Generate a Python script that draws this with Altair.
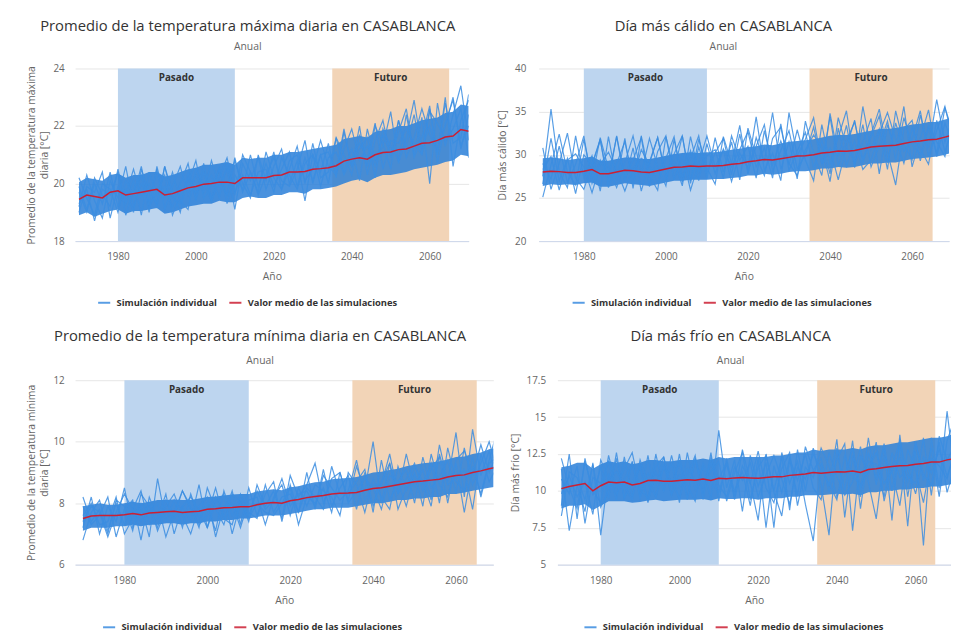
import altair as alt
import pandas as pd

YEARS = list(range(1970, 2071, 2))
X_TICKS = [1980, 2000, 2020, 2040, 2060]
SIM_LABEL = "Simulación individual"
MEAN_LABEL = "Valor medio de las simulaciones"
PERIOD_LABELS = ["Pasado", "Futuro"]
PERIOD_START = [1980, 2035]
PERIOD_END = [2010, 2065]
PERIOD_COLORS = ["#bdd5ef", "#f2d4b7"]

# ---------------- Panel 1: promedio temperatura máxima diaria ----------------
P1_MEAN = [19.45, 19.6, 19.55, 19.5, 19.7, 19.75, 19.6, 19.65, 19.7, 19.75, 19.8, 19.6, 19.65, 19.75, 19.85,
           19.9, 19.98, 20.0, 20.05, 20.05, 20.0, 20.2, 20.2, 20.2, 20.2, 20.28, 20.3, 20.4, 20.4, 20.42,
           20.5, 20.52, 20.55, 20.62, 20.78, 20.85, 20.9, 20.85, 21.0, 21.08, 21.1, 21.18, 21.2, 21.3, 21.4,
           21.42, 21.5, 21.62, 21.65, 21.88, 21.82]
P1_LO = [18.9, 19.0, 18.85, 18.95, 19.05, 19.1, 18.95, 19.05, 19.05, 19.1, 19.15, 18.95, 19.0, 19.1, 19.2,
         19.25, 19.3, 19.3, 19.4, 19.35, 19.35, 19.5, 19.55, 19.5, 19.5, 19.6, 19.6, 19.7, 19.7, 19.65,
         19.8, 19.8, 19.85, 19.9, 20.0, 20.1, 20.15, 20.05, 20.2, 20.3, 20.3, 20.35, 20.4, 20.5, 20.55,
         20.6, 20.65, 20.75, 20.8, 21.0, 20.95]
P1_HI = [20.05, 20.2, 20.15, 20.1, 20.3, 20.35, 20.2, 20.3, 20.3, 20.4, 20.4, 20.25, 20.3, 20.4, 20.5,
         20.55, 20.65, 20.65, 20.7, 20.75, 20.65, 20.9, 20.85, 20.9, 20.9, 21.0, 21.0, 21.1, 21.1, 21.15,
         21.2, 21.25, 21.3, 21.35, 21.55, 21.6, 21.65, 21.6, 21.8, 21.85, 21.9, 22.0, 22.0, 22.1, 22.2,
         22.25, 22.3, 22.45, 22.5, 22.75, 22.7]
P1_S1 = [19.2, 20.3, 19.4, 18.8, 20.1, 19.5, 20.6, 19.2, 20.0, 19.4, 20.5, 19.1, 19.9, 20.6, 19.6, 20.3, 19.7,
         20.8, 19.9, 20.5, 19.1, 20.7, 20.1, 20.9, 19.8, 20.6, 21.2, 20.0, 20.8, 19.4, 21.0, 20.4, 21.4, 20.2,
         21.8, 20.6, 22.0, 20.3, 21.5, 22.2, 20.9, 21.8, 22.6, 21.0, 22.3, 20.0, 22.8, 21.3, 22.4, 23.4, 21.5]
P1_S2 = [19.7, 19.0, 20.2, 19.6, 19.2, 20.5, 19.3, 20.1, 18.9, 20.4, 19.6, 19.9, 19.2, 20.0, 20.7, 19.4, 20.4,
         19.5, 20.6, 19.3, 20.3, 19.8, 21.0, 19.9, 20.7, 19.9, 20.5, 21.1, 19.9, 20.9, 20.1, 21.0, 20.0, 21.6,
         20.4, 21.2, 20.1, 21.9, 20.8, 21.3, 22.5, 20.7, 21.6, 22.9, 21.2, 22.0, 21.0, 23.0, 20.6, 22.2, 22.9]
P1_S3 = [20.2, 19.5, 18.9, 20.0, 19.8, 19.0, 20.1, 19.6, 20.6, 19.2, 19.7, 20.3, 18.9, 19.6, 20.0, 20.8, 19.5,
         19.9, 20.5, 19.6, 20.9, 19.7, 20.4, 19.7, 21.1, 20.2, 19.8, 20.8, 21.0, 20.1, 20.5, 21.5, 20.6, 20.3,
         21.2, 21.9, 20.8, 21.3, 20.6, 21.7, 21.0, 22.2, 20.9, 21.6, 22.6, 21.7, 21.2, 22.0, 23.0, 21.2, 22.4]
P1_S4 = [19.0, 19.9, 19.7, 20.4, 18.8, 19.9, 19.6, 20.5, 19.5, 20.0, 19.2, 20.6, 19.5, 19.3, 20.2, 19.7, 20.0,
         19.4, 20.2, 20.9, 19.7, 20.3, 19.6, 20.4, 20.5, 19.7, 20.9, 20.3, 19.8, 20.7, 21.0, 19.9, 20.9, 21.1,
         20.3, 20.9, 21.4, 20.9, 22.1, 20.5, 21.5, 21.4, 21.9, 21.4, 21.0, 22.5, 22.1, 21.5, 21.9, 22.6, 20.9]
P1_S5 = [19.9, 19.1, 20.0, 19.3, 20.4, 19.2, 19.8, 19.0, 20.5, 19.7, 19.3, 20.6, 19.7, 19.0, 20.4, 19.5, 20.7,
         19.4, 20.1, 19.6, 20.8, 20.0, 19.5, 21.0, 20.1, 21.1, 19.8, 20.5, 21.3, 20.0, 21.4, 20.2, 20.4, 21.6,
         21.0, 20.3, 21.7, 20.6, 22.0, 21.4, 20.5, 22.2, 21.3, 22.4, 21.0, 22.6, 21.1, 22.8, 21.4, 21.6, 23.1]
P1_S6 = [19.3, 19.8, 18.7, 19.8, 19.6, 20.4, 18.9, 19.8, 20.3, 19.0, 20.6, 19.5, 20.4, 19.4, 19.1, 20.5, 19.9,
         20.3, 19.5, 20.7, 19.6, 21.0, 20.4, 19.6, 20.3, 20.9, 20.1, 19.9, 20.5, 21.5, 20.0, 21.0, 21.1, 20.4,
         21.9, 20.6, 21.2, 21.6, 20.2, 21.9, 21.3, 20.8, 22.4, 20.9, 21.6, 22.7, 20.7, 22.1, 22.9, 21.3, 22.0]

# ---------------- Panel 2: día más cálido ----------------
P2_MEAN = [28.0, 28.1, 28.05, 27.95, 27.95, 28.1, 28.3, 27.8, 27.8, 28.0, 28.2, 28.15, 28.0, 27.95, 28.15,
           28.35, 28.55, 28.6, 28.7, 28.65, 28.7, 28.7, 28.75, 28.9, 29.0, 29.2, 29.3, 29.45, 29.4, 29.55,
           29.7, 29.85, 29.9, 30.0, 30.2, 30.3, 30.45, 30.4, 30.5, 30.7, 30.9, 31.0, 31.05, 31.1, 31.3,
           31.5, 31.6, 31.75, 31.8, 32.05, 32.3]
P2_LO = [26.4, 26.6, 26.5, 26.6, 26.5, 26.7, 26.8, 26.3, 26.3, 26.5, 26.7, 26.6, 26.5, 26.4, 26.6, 26.8, 27.0,
         27.0, 27.1, 27.1, 27.1, 27.2, 27.2, 27.3, 27.4, 27.6, 27.6, 27.8, 27.7, 27.8, 28.0, 28.1, 28.1, 28.2,
         28.4, 28.4, 28.6, 28.5, 28.6, 28.8, 29.0, 29.0, 29.1, 29.1, 29.3, 29.5, 29.6, 29.7, 29.8, 30.0, 30.3]
P2_HI = [29.6, 29.7, 29.6, 29.4, 29.5, 29.6, 29.8, 29.3, 29.3, 29.5, 29.7, 29.7, 29.5, 29.5, 29.7, 29.9, 30.1,
         30.2, 30.3, 30.2, 30.3, 30.3, 30.4, 30.6, 30.7, 30.9, 31.0, 31.2, 31.1, 31.3, 31.5, 31.6, 31.7, 31.8,
         32.0, 32.2, 32.3, 32.3, 32.4, 32.6, 32.8, 33.0, 33.0, 33.1, 33.3, 33.5, 33.6, 33.8, 33.8, 34.1, 34.3]
P2_S1 = [27.5, 35.3, 28.0, 26.2, 32.2, 27.4, 29.9, 25.8, 32.1, 27.0, 31.9, 26.1, 32.2, 27.6, 25.9, 32.1, 28.2,
         32.2, 27.0, 31.8, 28.5, 26.6, 32.1, 29.0, 33.4, 27.8, 32.0, 29.2, 34.9, 28.3, 31.5, 27.2, 33.9, 30.2,
         27.6, 34.8, 29.8, 33.4, 28.5, 35.6, 30.6, 33.0, 28.3, 35.1, 31.2, 29.4, 34.6, 30.8, 36.4, 31.5, 34.4]
P2_S2 = [25.1, 28.8, 32.4, 28.0, 26.5, 31.8, 27.2, 32.0, 28.4, 26.2, 29.1, 32.2, 27.8, 31.9, 28.6, 26.4, 31.8,
         27.5, 29.6, 32.2, 27.2, 32.0, 28.0, 31.5, 27.1, 33.1, 29.8, 27.6, 31.9, 33.2, 28.8, 32.9, 29.4, 27.0,
         33.5, 29.0, 32.0, 35.1, 28.9, 31.5, 34.2, 27.8, 33.5, 30.6, 35.6, 28.6, 31.9, 35.2, 29.8, 33.7, 31.0]
P2_S3 = [30.8, 26.0, 29.0, 32.5, 27.3, 26.0, 28.8, 31.7, 26.9, 32.2, 27.3, 29.4, 32.0, 26.3, 30.4, 32.2, 27.1,
         30.0, 25.9, 29.0, 32.2, 28.6, 30.5, 26.9, 30.2, 28.5, 34.4, 28.2, 30.2, 27.0, 34.9, 29.9, 31.8, 34.3,
         28.9, 30.8, 27.1, 30.9, 34.0, 29.0, 32.4, 35.3, 30.3, 26.5, 32.9, 34.0, 29.3, 33.1, 30.2, 35.4, 32.6]
P2_S4 = [28.3, 29.8, 25.9, 29.4, 30.1, 28.6, 25.6, 28.9, 30.3, 28.2, 25.8, 28.5, 29.6, 29.0, 32.0, 27.6, 29.3,
         26.4, 32.1, 28.0, 29.9, 30.6, 27.3, 32.2, 29.4, 31.0, 27.3, 32.8, 28.8, 31.6, 29.0, 27.6, 30.6, 32.3,
         30.8, 26.9, 33.1, 28.7, 31.6, 28.3, 29.4, 32.5, 34.9, 31.8, 29.0, 33.1, 30.7, 28.9, 34.0, 30.4, 33.2]
P2_S5 = [29.0, 27.2, 31.0, 26.8, 28.9, 32.2, 26.7, 29.4, 27.5, 32.1, 26.9, 30.8, 25.8, 29.2, 32.0, 27.3, 30.1,
         32.2, 26.7, 30.9, 27.9, 30.2, 31.9, 27.7, 32.4, 28.0, 31.0, 33.5, 28.1, 30.5, 32.8, 28.4, 30.0, 33.2,
         29.0, 34.4, 28.7, 31.6, 33.8, 29.5, 32.1, 34.5, 29.1, 33.7, 30.4, 31.8, 35.1, 29.8, 32.8, 35.6, 31.5]
P2_S6 = [26.6, 31.9, 27.0, 29.6, 25.5, 30.0, 28.9, 31.8, 26.2, 29.0, 31.5, 27.2, 30.6, 28.8, 26.8, 29.6, 32.1,
         26.8, 30.5, 27.0, 31.3, 27.8, 30.7, 28.6, 30.6, 32.7, 28.6, 30.8, 27.3, 33.6, 28.2, 30.4, 32.6, 28.5,
         31.7, 27.8, 34.3, 30.9, 29.2, 33.5, 28.6, 31.0, 33.9, 29.4, 34.3, 31.2, 30.0, 33.4, 31.5, 29.8, 34.8]

# ---------------- Panel 3: promedio temperatura mínima diaria ----------------
P3_MEAN = [7.5, 7.58, 7.6, 7.6, 7.6, 7.62, 7.66, 7.62, 7.68, 7.7, 7.72, 7.74, 7.7, 7.72, 7.74, 7.8, 7.82,
           7.85, 7.86, 7.88, 7.88, 7.95, 8.0, 8.02, 8.0, 8.08, 8.12, 8.18, 8.22, 8.25, 8.3, 8.32, 8.33, 8.35,
           8.42, 8.48, 8.5, 8.55, 8.6, 8.65, 8.7, 8.72, 8.75, 8.78, 8.85, 8.9, 8.92, 9.0, 9.05, 9.12, 9.18]
P3_LO = [7.1, 7.2, 7.2, 7.2, 7.25, 7.25, 7.3, 7.25, 7.3, 7.3, 7.35, 7.35, 7.3, 7.35, 7.35, 7.4, 7.4, 7.45,
         7.45, 7.5, 7.5, 7.55, 7.6, 7.6, 7.6, 7.65, 7.7, 7.75, 7.8, 7.8, 7.85, 7.85, 7.85, 7.9, 7.95, 8.0,
         8.0, 8.05, 8.1, 8.1, 8.15, 8.15, 8.2, 8.2, 8.3, 8.3, 8.35, 8.4, 8.45, 8.5, 8.55]
P3_HI = [7.9, 7.95, 8.0, 7.95, 7.95, 8.0, 8.05, 8.0, 8.05, 8.1, 8.1, 8.12, 8.1, 8.1, 8.15, 8.2, 8.22, 8.25,
         8.28, 8.3, 8.3, 8.38, 8.42, 8.45, 8.42, 8.52, 8.55, 8.62, 8.68, 8.7, 8.78, 8.8, 8.82, 8.85, 8.92,
         9.0, 9.02, 9.08, 9.12, 9.2, 9.25, 9.3, 9.32, 9.36, 9.42, 9.5, 9.52, 9.6, 9.65, 9.75, 9.8]
P3_S1 = [7.2, 8.2, 7.0, 7.9, 7.4, 8.5, 7.2, 7.9, 6.9, 8.8, 7.4, 8.1, 7.2, 8.3, 7.5, 8.0, 7.1, 8.4, 7.6, 8.1,
         7.4, 8.6, 7.9, 8.4, 7.5, 8.9, 8.2, 8.6, 9.3, 8.0, 8.8, 9.0, 8.1, 9.2, 8.4, 10.0, 8.0, 9.3, 8.3, 9.6,
         8.5, 9.1, 8.1, 9.9, 8.7, 10.3, 8.2, 10.4, 8.9, 9.7, 8.6]
P3_S2 = [6.8, 7.7, 8.1, 7.1, 8.0, 7.3, 7.8, 8.4, 7.3, 7.5, 8.3, 7.0, 7.9, 7.4, 8.6, 7.2, 8.2, 7.6, 8.4, 7.3,
         8.5, 7.6, 8.3, 8.7, 7.4, 8.6, 7.7, 9.0, 7.8, 9.1, 7.9, 8.5, 8.9, 7.8, 9.0, 7.7, 9.4, 8.1, 8.7, 9.1,
         8.0, 9.5, 8.5, 8.9, 9.4, 8.3, 9.8, 8.6, 9.3, 10.0, 9.0]
P3_S3 = [7.9, 7.3, 7.6, 8.2, 6.9, 7.8, 8.1, 6.8, 8.2, 7.5, 7.9, 8.3, 7.6, 7.0, 7.9, 8.2, 6.9, 7.9, 8.0, 7.2,
         8.1, 8.2, 7.3, 8.2, 8.6, 7.6, 8.5, 7.9, 8.6, 8.4, 8.2, 7.6, 9.0, 8.6, 7.7, 8.8, 8.2, 7.8, 9.2, 8.4,
         9.0, 7.9, 9.6, 8.6, 8.2, 9.3, 7.7, 9.2, 8.3, 9.4, 10.4]
P3_S4 = [7.6, 8.0, 7.3, 7.4, 8.2, 7.0, 7.5, 8.0, 7.7, 8.0, 6.9, 7.7, 8.4, 7.8, 7.3, 7.6, 8.5, 7.5, 7.3, 8.3,
         7.7, 7.5, 8.6, 7.7, 8.2, 8.3, 7.7, 8.5, 8.2, 7.8, 9.2, 8.3, 8.3, 8.7, 9.1, 7.9, 8.7, 9.3, 7.8, 8.5,
         9.2, 8.7, 7.9, 9.6, 8.6, 8.8, 9.1, 7.8, 9.6, 8.7, 9.2]
P3_S5 = [8.2, 7.4, 7.8, 7.0, 8.1, 7.9, 7.1, 8.3, 7.9, 7.2, 8.1, 7.6, 8.4, 7.9, 7.2, 8.5, 7.8, 7.3, 8.3, 8.0,
         7.6, 8.4, 7.8, 8.1, 8.8, 7.9, 8.3, 8.4, 7.9, 8.9, 8.5, 8.1, 8.4, 9.4, 8.1, 8.6, 8.6, 9.6, 8.3, 8.8,
         9.3, 8.4, 9.1, 9.5, 8.0, 9.4, 9.7, 8.9, 9.9, 9.0, 9.6]
P3_S6 = [7.4, 7.9, 7.7, 6.9, 7.7, 8.3, 7.8, 7.4, 8.0, 7.1, 7.8, 7.5, 7.9, 8.2, 7.8, 7.2, 8.0, 8.3, 7.0, 8.0,
         7.5, 8.0, 7.7, 7.6, 8.0, 8.5, 7.3, 8.2, 8.0, 8.5, 7.7, 9.0, 8.0, 8.4, 8.8, 8.5, 7.8, 8.9, 8.7, 7.9,
         8.9, 8.6, 9.3, 8.0, 9.8, 8.7, 8.4, 9.5, 8.2, 9.3, 9.5]

# ---------------- Panel 4: día más frío ----------------
P4_MEAN = [10.15, 10.3, 10.4, 10.5, 10.0, 10.35, 10.6, 10.55, 10.6, 10.4, 10.5, 10.7, 10.72, 10.65, 10.65,
           10.7, 10.75, 10.72, 10.8, 10.7, 10.85, 10.82, 10.88, 10.9, 10.88, 10.85, 10.9, 10.95, 10.95, 11.05,
           11.1, 11.15, 11.25, 11.2, 11.25, 11.3, 11.28, 11.35, 11.25, 11.45, 11.5, 11.58, 11.65, 11.7, 11.72,
           11.8, 11.85, 11.95, 11.95, 12.1, 12.2]
P4_LO = [8.8, 9.0, 9.0, 9.1, 8.7, 9.0, 9.3, 9.3, 9.3, 9.2, 9.25, 9.35, 9.4, 9.3, 9.35, 9.4, 9.4, 9.4, 9.45,
         9.35, 9.5, 9.45, 9.45, 9.5, 9.5, 9.4, 9.5, 9.5, 9.5, 9.6, 9.6, 9.7, 9.7, 9.7, 9.75, 9.8, 9.75, 9.8,
         9.7, 9.9, 9.9, 10.0, 10.0, 10.1, 10.1, 10.2, 10.2, 10.3, 10.3, 10.4, 10.5]
P4_HI = [11.6, 11.7, 11.9, 11.9, 11.5, 11.8, 12.0, 11.9, 12.0, 11.8, 11.9, 12.1, 12.1, 12.0, 12.0, 12.1, 12.1,
         12.1, 12.2, 12.1, 12.3, 12.2, 12.3, 12.3, 12.3, 12.3, 12.3, 12.4, 12.4, 12.5, 12.6, 12.6, 12.8, 12.7,
         12.8, 12.8, 12.8, 12.9, 12.8, 13.0, 13.1, 13.1, 13.2, 13.3, 13.3, 13.4, 13.5, 13.6, 13.6, 13.7, 13.9]
P4_S1 = [11.5, 7.3, 10.4, 8.6, 11.9, 7.0, 11.2, 9.4, 12.3, 9.6, 11.8, 9.3, 12.5, 10.0, 11.9, 9.2, 12.6, 10.1,
         11.6, 9.4, 14.1, 10.2, 12.1, 8.6, 12.4, 10.3, 11.9, 7.5, 12.6, 10.5, 12.0, 9.1, 6.6, 11.9, 10.3, 13.5,
         8.2, 12.4, 9.6, 13.6, 10.4, 12.9, 8.0, 13.8, 9.6, 12.7, 6.3, 13.6, 10.2, 15.4, 11.0]
P4_S2 = [9.0, 12.5, 8.1, 12.2, 9.7, 11.6, 9.5, 12.6, 9.4, 12.0, 9.6, 12.4, 9.5, 11.8, 9.7, 12.5, 9.5, 12.2,
         9.8, 12.6, 9.3, 12.2, 9.6, 12.8, 10.6, 8.0, 12.5, 10.0, 12.3, 8.7, 12.8, 10.0, 12.9, 10.4, 7.0, 12.9,
         10.0, 13.4, 8.8, 12.6, 10.9, 13.2, 10.0, 13.1, 7.6, 13.3, 10.7, 12.9, 9.6, 13.4, 14.9]
P4_S3 = [10.8, 9.8, 11.7, 7.8, 10.9, 10.5, 12.0, 9.8, 10.8, 11.9, 9.5, 11.2, 10.3, 12.3, 9.7, 11.1, 10.4, 9.3,
         11.9, 10.6, 9.9, 11.8, 10.0, 11.3, 9.0, 12.2, 7.5, 11.7, 9.9, 12.2, 10.7, 12.5, 10.2, 9.4, 12.6, 11.0,
         9.7, 10.6, 13.0, 10.6, 8.1, 12.3, 11.3, 9.0, 12.8, 11.4, 9.2, 12.2, 11.7, 10.8, 12.9]
P4_S4 = [9.8, 11.0, 9.6, 10.6, 8.4, 12.1, 10.8, 11.3, 10.3, 9.4, 12.1, 10.5, 9.6, 11.6, 10.6, 9.5, 11.5, 10.8,
         10.2, 11.9, 10.4, 9.6, 11.6, 10.7, 11.9, 9.6, 11.1, 12.4, 10.8, 9.1, 11.6, 10.8, 12.5, 11.5, 10.5, 9.4,
         12.4, 11.0, 10.4, 12.0, 11.8, 9.6, 12.6, 10.9, 11.6, 9.8, 12.3, 11.2, 12.8, 11.0, 12.5]
P4_S5 = [12.2, 10.2, 8.8, 12.0, 10.0, 9.2, 12.4, 10.2, 11.5, 12.6, 10.1, 9.5, 11.7, 12.3, 10.3, 11.9, 9.4, 12.2,
         10.5, 11.3, 12.0, 9.3, 11.2, 12.6, 9.4, 11.6, 12.4, 9.9, 8.3, 12.1, 9.7, 13.0, 11.4, 12.2, 9.9, 12.1,
         13.2, 7.3, 12.4, 11.1, 13.3, 9.3, 11.6, 13.4, 11.0, 10.5, 13.6, 9.7, 13.7, 12.1, 13.1]
P4_S6 = [8.3, 11.3, 10.9, 9.4, 11.8, 8.9, 10.0, 12.2, 9.5, 10.6, 11.6, 9.2, 11.3, 10.0, 12.4, 10.2, 11.0, 12.4,
         9.4, 12.3, 10.8, 11.9, 9.4, 11.7, 10.5, 12.7, 10.2, 9.2, 11.5, 12.6, 9.0, 11.6, 10.9, 12.9, 11.7, 9.6,
         11.0, 12.9, 10.2, 11.4, 12.6, 10.5, 11.3, 12.2, 10.6, 13.3, 11.1, 10.4, 13.3, 9.9, 11.7]

FONT = "Open Sans"
SIM_COLOR = "#3b8de0"
BAND_COLOR = "#2a7fd8"
MEAN_COLOR = "#cc1f33"


def panel(title, ytitle, mean, lo, hi, sims, ydom, yvals, xdom, w, h,
          label_pad, title_pad, leg_x, leg_y, sub_pad, offset):
    band_df = pd.DataFrame({"year": YEARS, "lo": lo, "hi": hi})
    rows = []
    for k, s in enumerate(sims):
        for yr, v in zip(YEARS, s):
            rows.append({"year": yr, "value": v, "sim": k, "serie": SIM_LABEL})
    sim_df = pd.DataFrame(rows)
    mean_df = pd.DataFrame({"year": YEARS, "value": mean, "serie": MEAN_LABEL})
    per_df = pd.DataFrame({"start": PERIOD_START, "end": PERIOD_END,
                           "label": PERIOD_LABELS, "fill": PERIOD_COLORS})

    xscale = alt.Scale(domain=xdom, nice=False, zero=False)
    yscale = alt.Scale(domain=ydom, nice=False, zero=False)
    xaxis = alt.Axis(values=X_TICKS, format="d", title="Año", grid=False, ticks=False,
                     domainColor="#ccd6eb", labelPadding=11, titlePadding=10,
                     labelColor="#666666", labelFontSize=10, labelFont=FONT,
                     titleColor="#666666", titleFontSize=10.5, titleFont=FONT, titleFontWeight="normal")
    yaxis = alt.Axis(values=yvals, format=".1~f", title=ytitle, grid=True, gridColor="#e6e6e6",
                     domain=False, ticks=False,
                     labelPadding=label_pad, titlePadding=title_pad,
                     labelColor="#666666", labelFontSize=10, labelFont=FONT,
                     titleColor="#666666", titleFontSize=10.5, titleFont=FONT, titleFontWeight="normal")

    color = alt.Color("serie:N",
                      scale=alt.Scale(domain=[SIM_LABEL, MEAN_LABEL], range=[SIM_COLOR, MEAN_COLOR]),
                      legend=alt.Legend(title=None, orient="none", legendX=leg_x, legendY=leg_y,
                                        direction="horizontal", symbolType="stroke",
                                        symbolStrokeWidth=2, symbolSize=150, columnPadding=8,
                                        labelFont=FONT, labelFontSize=9.5, labelFontWeight="bold",
                                        labelColor="#333333", labelOffset=5))

    rect = alt.Chart(per_df).mark_rect().encode(
        x=alt.X("start:Q", scale=xscale, axis=xaxis),
        x2="end:Q",
        fill=alt.Fill("fill:N", scale=None),
    )
    area = alt.Chart(band_df).mark_area(color=BAND_COLOR, opacity=0.85, clip=True).encode(
        x=alt.X("year:Q", scale=xscale, axis=xaxis),
        y=alt.Y("lo:Q", scale=yscale, axis=yaxis),
        y2="hi:Q",
    )
    lines = alt.Chart(sim_df).mark_line(strokeWidth=1.2, opacity=0.85, clip=True).encode(
        x=alt.X("year:Q", scale=xscale, axis=xaxis),
        y=alt.Y("value:Q", scale=yscale, axis=yaxis),
        detail="sim:N",
        color=color,
    )
    mline = alt.Chart(mean_df).mark_line(strokeWidth=1.5, clip=True).encode(
        x=alt.X("year:Q", scale=xscale, axis=xaxis),
        y=alt.Y("value:Q", scale=yscale, axis=yaxis),
        color=color,
    )
    labels = alt.Chart(per_df).transform_calculate(mid="(datum.start + datum.end) / 2").mark_text(
        baseline="top", dy=5, font=FONT, fontSize=10, fontWeight="bold", color="#333333"
    ).encode(
        x=alt.X("mid:Q", scale=xscale, axis=xaxis),
        y=alt.datum(ydom[1], scale=yscale, axis=yaxis),
        text="label:N",
    )
    return alt.layer(rect, area, lines, mline, labels).properties(
        width=w, height=h,
        title=alt.TitleParams(text=title, subtitle="Anual", anchor="middle", frame="bounds",
                              font=FONT, fontSize=15, fontWeight="normal", color="#333333",
                              subtitleFont=FONT, subtitleFontSize=10.5, subtitleColor="#666666",
                              subtitlePadding=sub_pad, offset=offset),
    )


p1 = panel("Promedio de la temperatura máxima diaria en CASABLANCA",
           ["Promedio de la temperatura máxima", "diaria [°C]"],
           P1_MEAN, P1_LO, P1_HI, [P1_S1, P1_S2, P1_S3, P1_S4, P1_S5, P1_S6],
           [18, 24], [18, 20, 22, 24], [1969, 2070], 399, 175, 11, 4, 22, 230, 9, 11)
p2 = panel("Día más cálido en CASABLANCA", "Día más cálido [°C]",
           P2_MEAN, P2_LO, P2_HI, [P2_S1, P2_S2, P2_S3, P2_S4, P2_S5, P2_S6],
           [20, 40], [20, 25, 30, 35, 40], [1969, 2069], 416, 175, 13, 7, 33, 230, 9, 11)
p3 = panel("Promedio de la temperatura mínima diaria en CASABLANCA",
           ["Promedio de la temperatura mínima", "diaria [°C]"],
           P3_MEAN, P3_LO, P3_HI, [P3_S1, P3_S2, P3_S3, P3_S4, P3_S5, P3_S6],
           [6, 12], [6, 8, 10, 12], [1968.1, 2069], 424, 187, 11, 4, 27, 243, 12, 9)
p4 = panel("Día más frío en CASABLANCA", "Día más frío [°C]",
           P4_MEAN, P4_LO, P4_HI, [P4_S1, P4_S2, P4_S3, P4_S4, P4_S5, P4_S6],
           [5, 17.5], [5, 7.5, 10, 12.5, 15, 17.5], [1969, 2069], 399, 187, 12, 6, 26, 243, 12, 9)

top = alt.hconcat(p1, p2, spacing=29).resolve_scale(color="independent").resolve_legend(color="independent")
bottom = alt.hconcat(p3, p4, spacing=17).resolve_scale(color="independent").resolve_legend(color="independent")

chart = alt.vconcat(top, bottom, spacing=22).resolve_scale(color="independent").resolve_legend(
    color="independent"
).properties(
    padding={"left": 19, "top": 6, "right": 0, "bottom": 0},
    background="white",
).configure_view(stroke=None)

chart.save("out.html", embed_options={"renderer": "svg", "actions": False})
